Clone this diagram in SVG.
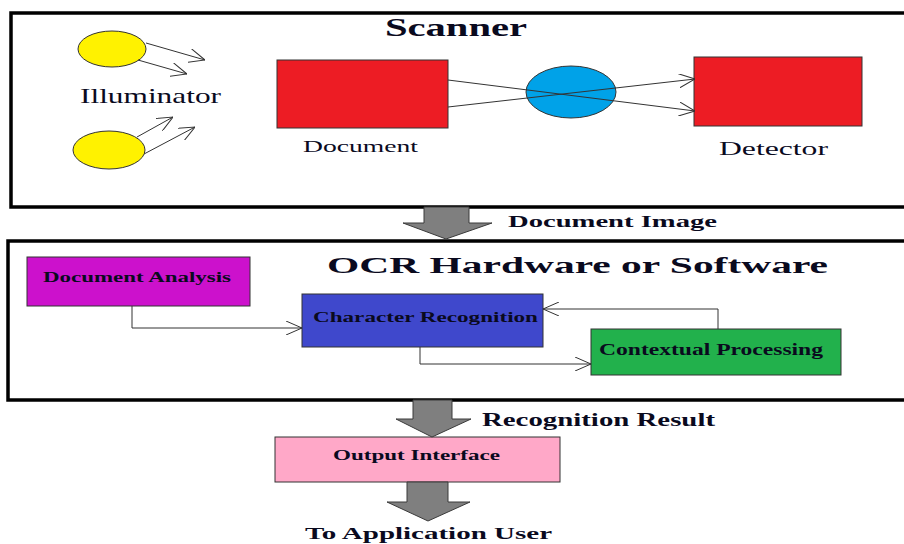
<svg xmlns="http://www.w3.org/2000/svg" width="904" height="544" viewBox="0 0 904 544">
<defs>
<marker id="open" viewBox="0 0 16 14" refX="16" refY="7" markerWidth="16" markerHeight="14" markerUnits="userSpaceOnUse" orient="auto">
<path d="M0,0 L16,7 L0,14" fill="none" stroke="#333" stroke-width="1"/>
</marker>
</defs>
<style>
text{font-family:"Liberation Serif","Times New Roman",serif;fill:#0a0a1e}
.b{font-weight:bold}
.frame{fill:#fff;stroke:#000;stroke-width:3.5}
.ln{fill:none;stroke:#333;stroke-width:1}
.big{fill:#7f7f7f;stroke:#3a3a3a;stroke-width:1}
.nd{stroke:#333;stroke-width:1}
</style>
<rect width="904" height="544" fill="#fff"/>
<g id="scanner">
<rect class="frame" x="11" y="13" width="905" height="194"/>
<text class="b" x="385" y="36" font-size="26" textLength="142" lengthAdjust="spacingAndGlyphs">Scanner</text>
</g>
<g id="ocr">
<rect class="frame" x="8" y="241" width="908" height="159"/>
<text class="b" x="327" y="273" font-size="23" textLength="501" lengthAdjust="spacingAndGlyphs">OCR Hardware or Software</text>
</g>
<g id="illuminator1"><ellipse class="nd" cx="112" cy="49" rx="34" ry="18" fill="#fff200"/></g>
<g id="illuminator2"><ellipse class="nd" cx="109" cy="150" rx="36" ry="19" fill="#fff200"/></g>
<g id="illuminator-label"><text x="80" y="103" font-size="21" textLength="141" lengthAdjust="spacingAndGlyphs">Illuminator</text></g>
<g id="document">
<rect class="nd" x="277" y="60" width="171" height="68" fill="#ed1c24"/>
<text x="303" y="152" font-size="17" textLength="115" lengthAdjust="spacingAndGlyphs">Document</text>
</g>
<g id="lens"><ellipse class="nd" cx="571" cy="92" rx="45" ry="26" fill="#00a2e8"/></g>
<g id="detector">
<rect class="nd" x="694" y="57" width="168" height="69" fill="#ed1c24"/>
<text x="719" y="155" font-size="19" textLength="109" lengthAdjust="spacingAndGlyphs">Detector</text>
</g>
<g id="doc-analysis">
<rect class="nd" x="27" y="257" width="223" height="49" fill="#cc11cc"/>
<text class="b" x="43" y="282" font-size="15" textLength="188" lengthAdjust="spacingAndGlyphs">Document Analysis</text>
</g>
<g id="char-recognition">
<rect class="nd" x="302" y="294" width="241" height="53" fill="#3f48cc"/>
<text class="b" x="313" y="322" font-size="15" textLength="225" lengthAdjust="spacingAndGlyphs">Character Recognition</text>
</g>
<g id="contextual">
<rect class="nd" x="591" y="329" width="250" height="46" fill="#22b14c"/>
<text class="b" x="599" y="355" font-size="16" textLength="224" lengthAdjust="spacingAndGlyphs">Contextual Processing</text>
</g>
<g id="output-interface">
<rect class="nd" x="275" y="437" width="285" height="45" fill="#ffa8c8"/>
<text class="b" x="333" y="460" font-size="15" textLength="167" lengthAdjust="spacingAndGlyphs">Output Interface</text>
</g>
<g id="connectors">
<line class="ln" x1="146" y1="43" x2="205" y2="60" marker-end="url(#open)"/>
<line class="ln" x1="138" y1="60" x2="187" y2="74" marker-end="url(#open)"/>
<line class="ln" x1="137" y1="137" x2="173" y2="117" marker-end="url(#open)"/>
<line class="ln" x1="144" y1="154" x2="195" y2="127" marker-end="url(#open)"/>
<line class="ln" x1="448" y1="80" x2="695" y2="111" marker-end="url(#open)"/>
<line class="ln" x1="448" y1="107" x2="695" y2="79" marker-end="url(#open)"/>
<polyline class="ln" points="132,306 132,328 302,328" marker-end="url(#open)"/>
<polyline class="ln" points="420,347 420,364 591,364" marker-end="url(#open)"/>
<polyline class="ln" points="718,329 718,309 543,309" marker-end="url(#open)"/>
<polygon class="big" points="424,207 469,207 469,223 492,223 446,239 403,223 424,223"/>
<polygon class="big" points="413,400 452,400 452,419 471,419 432,437 396,419 413,419"/>
<polygon class="big" points="407,482 448,482 448,502 470,502 428,521 387,502 407,502"/>
</g>
<g id="labels">
<text class="b" x="508" y="227" font-size="17" textLength="209" lengthAdjust="spacingAndGlyphs">Document Image</text>
<text class="b" x="482" y="426" font-size="18" textLength="233" lengthAdjust="spacingAndGlyphs">Recognition Result</text>
<text class="b" x="305" y="539" font-size="17" textLength="247" lengthAdjust="spacingAndGlyphs">To Application User</text>
</g>
</svg>
